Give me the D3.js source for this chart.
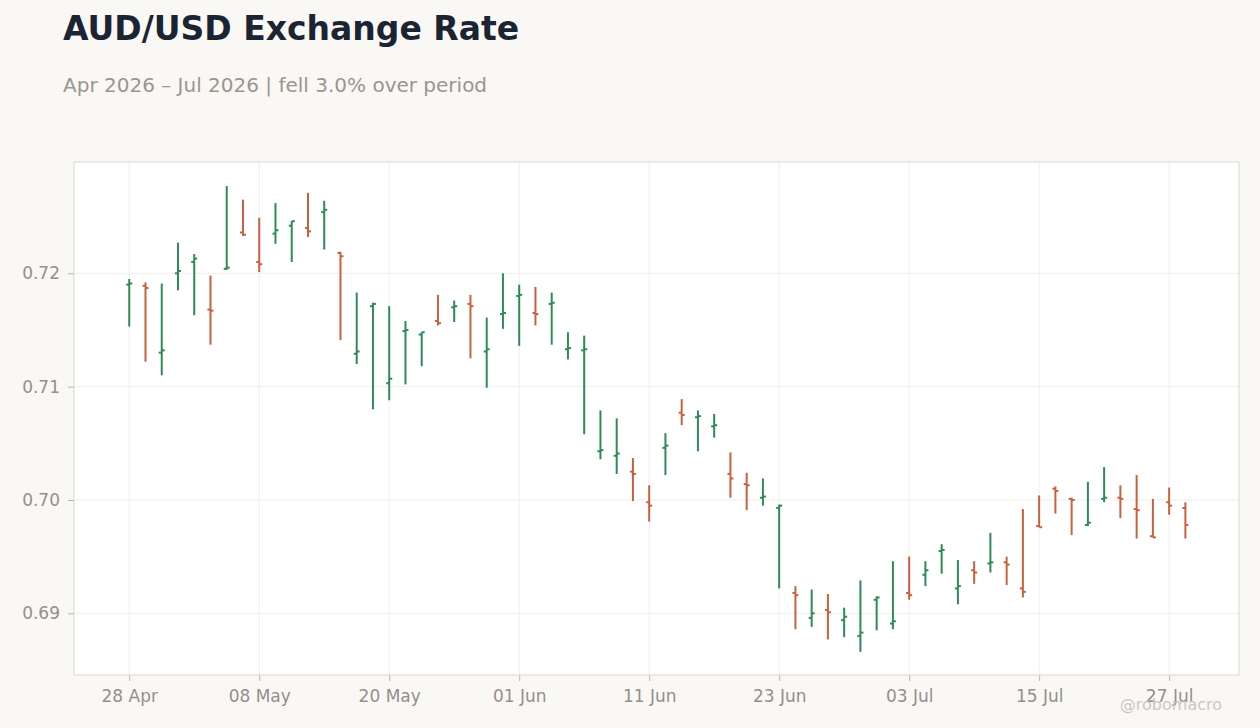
<!DOCTYPE html>
<html>
<head>
  <meta charset="utf-8">
  <title>AUD/USD Exchange Rate</title>
  <style>
    body { margin: 0; background: #f9f8f5; }
    svg { display: block; font-family: "DejaVu Sans", sans-serif; }
    .axis text { fill: #948f8a; font-size: 17px; font-family: "DejaVu Sans", sans-serif; }
    .axis line { stroke: #b9b4ae; }
    .axis path { display: none; }
  </style>
</head>
<body>
<script src="https://cdn.jsdelivr.net/npm/d3@7"></script>
<script>
  // trading days (business days only)
  var dates = [
    "2026-04-28","2026-04-29","2026-04-30","2026-05-01","2026-05-04","2026-05-05","2026-05-06","2026-05-07","2026-05-08",
    "2026-05-11","2026-05-12","2026-05-13","2026-05-14","2026-05-15","2026-05-18","2026-05-19","2026-05-20","2026-05-21",
    "2026-05-22","2026-05-25","2026-05-26","2026-05-27","2026-05-28","2026-05-29","2026-06-01","2026-06-02","2026-06-03",
    "2026-06-04","2026-06-05","2026-06-08","2026-06-09","2026-06-10","2026-06-11","2026-06-12","2026-06-15","2026-06-16",
    "2026-06-17","2026-06-18","2026-06-19","2026-06-22","2026-06-23","2026-06-24","2026-06-25","2026-06-26","2026-06-29",
    "2026-06-30","2026-07-01","2026-07-02","2026-07-03","2026-07-06","2026-07-07","2026-07-08","2026-07-09","2026-07-10",
    "2026-07-13","2026-07-14","2026-07-15","2026-07-16","2026-07-17","2026-07-20","2026-07-21","2026-07-22","2026-07-23",
    "2026-07-24","2026-07-27","2026-07-28"
  ];

  var open = [
    0.7190,0.7189,0.7130,0.7200,0.7210,0.7168,0.7204,0.7236,0.7210,0.7235,
    0.7242,0.7240,0.7254,0.7218,0.7129,0.7171,0.7103,0.7149,0.7146,0.7158,
    0.7170,0.7173,0.7131,0.7164,0.7180,0.7165,0.7173,0.7133,0.7132,0.7043,
    0.7039,0.7025,0.6998,0.7046,0.7077,0.7073,0.7065,0.7023,0.7014,0.7002,
    0.6993,0.6918,0.6896,0.6903,0.6894,0.6880,0.6912,0.6891,0.6918,0.6934,
    0.6955,0.6922,0.6938,0.6944,0.6945,0.6922,0.6977,0.7010,0.7001,0.6978,
    0.7001,0.7002,0.6992,0.6968,0.6998,0.6993
  ];
  var high = [
    0.7195,0.7192,0.7191,0.7227,0.7217,0.7198,0.7277,0.7265,0.7249,0.7262,
    0.7246,0.7271,0.7264,0.7219,0.7183,0.7174,0.7171,0.7158,0.7148,0.7181,
    0.7176,0.7181,0.7161,0.7200,0.7190,0.7188,0.7183,0.7148,0.7145,0.7079,
    0.7072,0.7037,0.7013,0.7059,0.7089,0.7079,0.7076,0.7042,0.7024,0.7019,
    0.6996,0.6924,0.6921,0.6917,0.6905,0.6929,0.6915,0.6946,0.6950,0.6946,
    0.6961,0.6947,0.6946,0.6971,0.6950,0.6992,0.7004,0.7012,0.7002,0.7016,
    0.7029,0.7013,0.7022,0.7001,0.7011,0.6998
  ];
  var low = [
    0.7153,0.7122,0.7110,0.7185,0.7163,0.7137,0.7203,0.7233,0.7201,0.7226,
    0.7210,0.7232,0.7221,0.7141,0.7120,0.7080,0.7088,0.7102,0.7118,0.7154,
    0.7157,0.7125,0.7099,0.7151,0.7136,0.7154,0.7137,0.7124,0.7058,0.7036,
    0.7023,0.6999,0.6981,0.7022,0.7066,0.7043,0.7055,0.7002,0.6991,0.6995,
    0.6922,0.6886,0.6888,0.6877,0.6879,0.6866,0.6885,0.6886,0.6912,0.6924,
    0.6935,0.6908,0.6926,0.6936,0.6925,0.6914,0.6976,0.6988,0.6969,0.6977,
    0.6998,0.6984,0.6966,0.6967,0.6987,0.6966
  ];
  var close = [
    0.7191,0.7187,0.7132,0.7202,0.7213,0.7167,0.7205,0.7234,0.7208,0.7238,
    0.7246,0.7237,0.7256,0.7215,0.7131,0.7173,0.7107,0.7150,0.7148,0.7156,
    0.7171,0.7171,0.7133,0.7165,0.7181,0.7164,0.7174,0.7134,0.7133,0.7044,
    0.7041,0.7023,0.6995,0.7048,0.7075,0.7074,0.7066,0.7019,0.7013,0.7003,
    0.6995,0.6916,0.6900,0.6901,0.6897,0.6883,0.6914,0.6893,0.6916,0.6938,
    0.6956,0.6924,0.6936,0.6945,0.6943,0.6919,0.6976,0.7008,0.7000,0.6980,
    0.7002,0.7001,0.6991,0.6967,0.6995,0.6978
  ];

  var yTicks = [0.69, 0.70, 0.71, 0.72];
  var xTickIdx = [0, 8, 16, 24, 32, 40, 48, 56, 64];

  var upColor = "#2e8b57", downColor = "#c9603f";

  // dimensions
  var W = 1260, H = 728;
  var margin = {top: 162, right: 21, bottom: 53, left: 74},
      width = W - margin.left - margin.right,
      height = H - margin.top - margin.bottom;

  var parseDate = d3.timeParse("%Y-%m-%d");
  var fmt = d3.timeFormat("%d %b");

  var data = dates.map(function(d, i) {
    return {i: i, date: parseDate(d), o: open[i], h: high[i], l: low[i], c: close[i]};
  });

  var x = d3.scaleLinear().domain([-3.4, data.length - 1 + 3.3]).range([0, width]);
  var y = d3.scaleLinear().domain([0.68456, 0.72982]).range([height, 0]);

  var svg = d3.select("body").append("svg")
      .attr("width", W)
      .attr("height", H);

  svg.append("rect").attr("width", W).attr("height", H).attr("fill", "#f9f8f5");

  // title + subtitle
  svg.append("text")
      .attr("x", 63).attr("y", 40)
      .style("font-size", "33px").style("font-weight", "bold")
      .attr("fill", "#1b2433")
      .text("AUD/USD Exchange Rate");

  svg.append("text")
      .attr("x", 63).attr("y", 92)
      .style("font-size", "20px")
      .attr("fill", "#9a9590")
      .text("Apr 2026 \u2013 Jul 2026 | fell 3.0% over period");

  var g = svg.append("g")
      .attr("transform", "translate(" + margin.left + "," + margin.top + ")");

  // plot area
  g.append("rect")
      .attr("width", width).attr("height", height)
      .attr("fill", "#ffffff");

  // grid
  g.selectAll(".hgrid").data(yTicks).enter().append("line")
      .attr("x1", 0).attr("x2", width)
      .attr("y1", function(d) { return y(d); })
      .attr("y2", function(d) { return y(d); })
      .attr("stroke", "#efeeec");

  g.selectAll(".vgrid").data(xTickIdx).enter().append("line")
      .attr("y1", 0).attr("y2", height)
      .attr("x1", function(d) { return x(d); })
      .attr("x2", function(d) { return x(d); })
      .attr("stroke", "#efeeec");

  // axes
  g.append("g")
      .attr("class", "axis")
      .call(d3.axisLeft(y).tickValues(yTicks).tickSize(6).tickPadding(8)
        .tickFormat(d3.format(".2f")));

  g.append("g")
      .attr("class", "axis")
      .attr("transform", "translate(0," + height + ")")
      .call(d3.axisBottom(x).tickValues(xTickIdx).tickSize(6).tickPadding(9)
        .tickFormat(function(i) { return fmt(data[i].date); }));

  // frame
  g.append("rect")
      .attr("width", width).attr("height", height)
      .attr("fill", "none")
      .attr("stroke", "#ddd7cf");

  // OHLC bars
  var bars = g.selectAll(".ohlc").data(data).enter().append("g")
      .attr("class", "ohlc")
      .attr("stroke", function(d) { return d.c >= d.o ? upColor : downColor; })
      .attr("stroke-width", 2);

  bars.append("line")
      .attr("x1", function(d) { return x(d.i); })
      .attr("x2", function(d) { return x(d.i); })
      .attr("y1", function(d) { return y(d.h); })
      .attr("y2", function(d) { return y(d.l); });

  bars.append("line")
      .attr("x1", function(d) { return x(d.i) - 3; })
      .attr("x2", function(d) { return x(d.i); })
      .attr("y1", function(d) { return y(d.o); })
      .attr("y2", function(d) { return y(d.o); });

  bars.append("line")
      .attr("x1", function(d) { return x(d.i); })
      .attr("x2", function(d) { return x(d.i) + 3; })
      .attr("y1", function(d) { return y(d.c); })
      .attr("y2", function(d) { return y(d.c); });

  // watermark
  svg.append("text")
      .attr("x", 1222).attr("y", 710)
      .attr("text-anchor", "end")
      .style("font-size", "16px")
      .attr("fill", "#cbc8c3")
      .text("@robomacro");
</script>
</body>
</html>
